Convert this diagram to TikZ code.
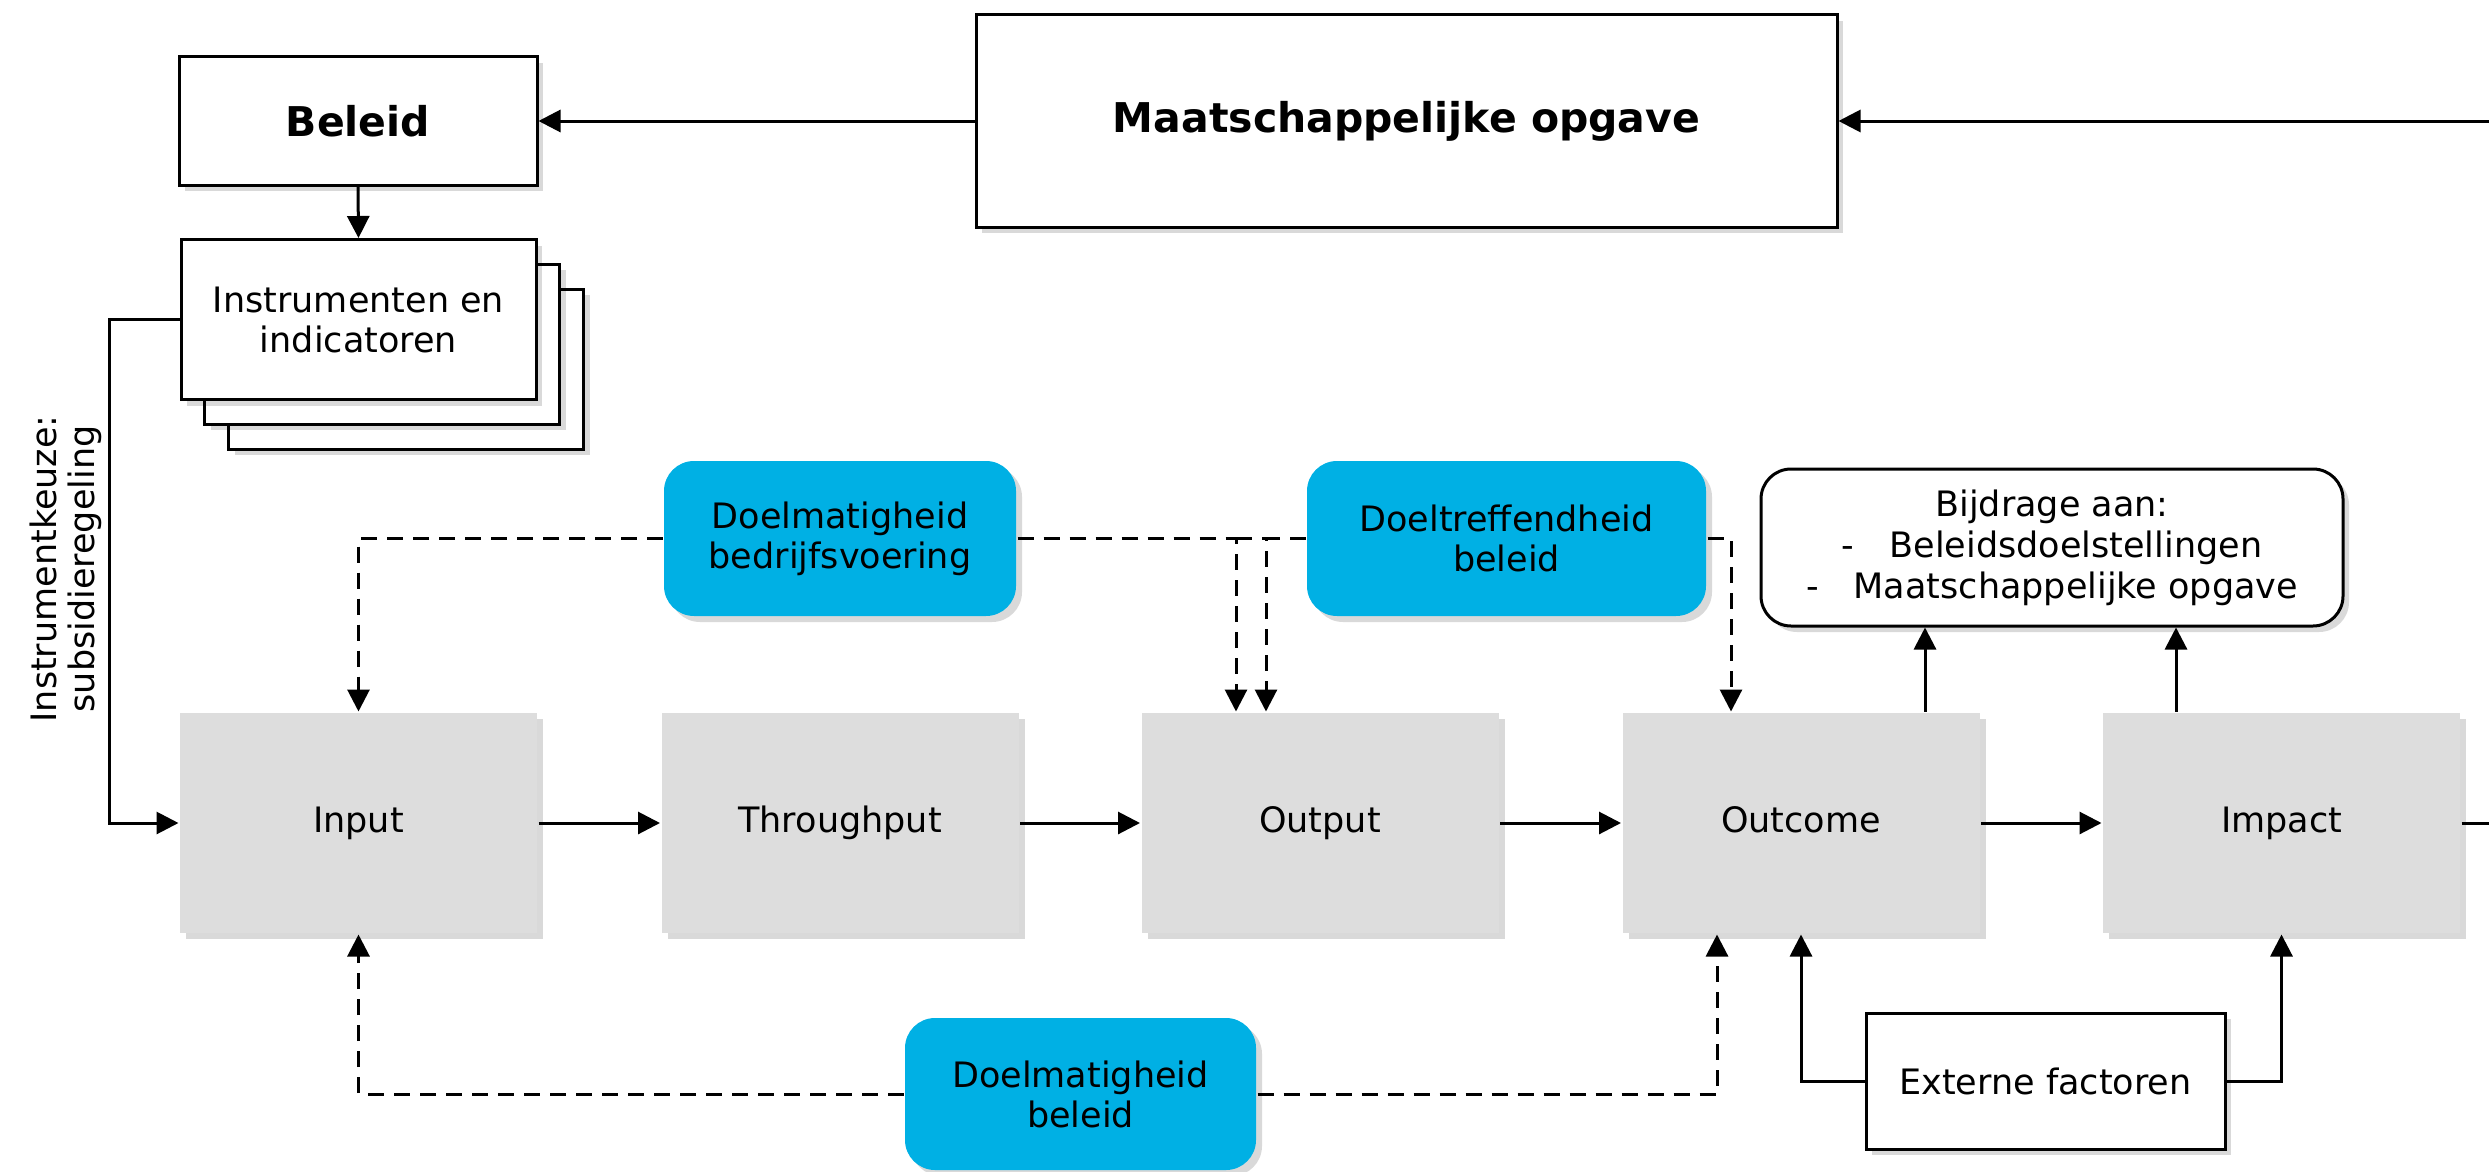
\documentclass[tikz,border=0pt]{standalone}
\usepackage{fontspec}
\setmainfont{DejaVu Sans}
\usetikzlibrary{arrows.meta,shadows,calc}
\definecolor{boxgray}{RGB}{221,221,221}
\definecolor{skyblue}{RGB}{0,176,228}
\begin{document}
\begin{tikzpicture}[x=1pt,y=-1pt,line width=3pt,
  txt/.style={font=\fontsize{35}{40}\selectfont,align=center,inner sep=0pt},
  shd/.style={drop shadow={shadow xshift=6pt,shadow yshift=-6pt,fill=black,opacity=0.15}},
  gbox/.style={txt,fill=boxgray,minimum width=357pt,minimum height=220pt,text height=26pt,text depth=7pt,shd},
  wbox/.style={txt,draw=black,fill=white,shd},
  bbox/.style={txt,fill=skyblue,rounded corners=30pt,shd},
  arr/.style={-{Triangle[length=22pt,width=22pt]}},
  dsh/.style={dash pattern=on 16pt off 10pt}]
\useasboundingbox (0,0) rectangle (2489,1172);

% main row
\node[gbox] (input) at (358.5,823) {Input};
\node[gbox] (through) at (840,823) {Throughput};
\node[gbox] (output) at (1320,823) {Output};
\node[gbox] (outcome) at (1801,823) {Outcome};
\node[gbox] (impact) at (2281.5,823) {Impact};

% top
\node[wbox,minimum width=358pt,minimum height=128pt,font=\fontsize{41}{46}\selectfont\bfseries] (beleid) at (358,121) {Beleid};
\node[wbox,minimum width=861pt,minimum height=212pt,font=\fontsize{41}{46}\selectfont\bfseries] (maat) at (1406.5,121) {Maatschappelijke opgave};

% instruments stack
\node[wbox,minimum width=355pt,minimum height=160pt] (inst3) at (406,369) {};
\node[wbox,minimum width=355pt,minimum height=160pt] (inst2) at (382,344) {};
\node[wbox,minimum width=355pt,minimum height=160pt] (inst) at (358.5,319.5) {Instrumenten en\\indicatoren};

% rotated label
\node[txt,rotate=90,font=\fontsize{35}{38}\selectfont] (keuze) at (66,569) {Instrumentkeuze:\\subsidieregeling};

% blue boxes
\node[bbox,minimum width=352pt,minimum height=155pt] (bedr) at (840,538.5) {Doelmatigheid\\bedrijfsvoering};
\node[bbox,minimum width=399pt,minimum height=155pt] (doeltr) at (1506.5,538.5) {Doeltreffendheid\\beleid};
\node[bbox,minimum width=351pt,minimum height=152pt] (dbel) at (1080.5,1094) {Doelmatigheid\\beleid};

% bijdrage
\node[wbox,rounded corners=30pt,minimum width=582pt,minimum height=157pt,font=\fontsize{35}{41}\selectfont] (bijd) at (2052,547.5) {Bijdrage aan:\\-\hspace{1em}Beleidsdoelstellingen\\-\hspace{1em}Maatschappelijke opgave};

% externe
\node[wbox,minimum width=359pt,minimum height=136pt] (ext) at (2045.5,1081) {Externe factoren};

% coordinates
\coordinate (redgeA) at (2489,121);
\coordinate (redgeB) at (2489,823);
\coordinate (kcorner) at (109,319.5);
\coordinate (outA) at ($(output.north)+(-84,0)$);
\coordinate (outB) at ($(output.north)+(-54,0)$);
\coordinate (ocA) at ($(outcome.north)+(-70,0)$);
\coordinate (ocB) at ($(outcome.south)+(-84,0)$);
\coordinate (ocC) at ($(outcome.north)+(124,0)$);
\coordinate (imA) at ($(impact.north)+(-105.5,0)$);
\coordinate (gapA) at (1236,538.5);
\coordinate (gapB) at (1266,538.5);

% solid connectors
\draw[arr] (redgeA) -- (maat.east);
\draw[arr] (maat.west) -- (beleid.east);
\draw[arr] (beleid.south) -- (inst.north);
\draw[arr] (inst.west) -- (kcorner) |- (input.west);
\draw[arr] (input.east) -- (through.west);
\draw[arr] (through.east) -- (output.west);
\draw[arr] (output.east) -- (outcome.west);
\draw[arr] (outcome.east) -- (impact.west);
\draw (impact.east) -- (redgeB);
\draw[arr] (ocC) -- (ocC |- bijd.south);
\draw[arr] (imA) -- (imA |- bijd.south);
\draw[arr] (ext.west) -| (outcome.south);
\draw[arr] (ext.east) -| (impact.south);

% dashed connectors
\draw[dsh,arr] (bedr.west) -| (input.north);
\draw[dsh,arr] (bedr.east) -| (outA);
\draw[dsh] (gapA) -- (gapB);
\draw[dsh,arr] (doeltr.west) -| (outB);
\draw[dsh,arr] (doeltr.east) -| (ocA);
\draw[dsh,arr] (dbel.west) -| (input.south);
\draw[dsh,arr] (dbel.east) -| (ocB);
\end{tikzpicture}
\end{document}
